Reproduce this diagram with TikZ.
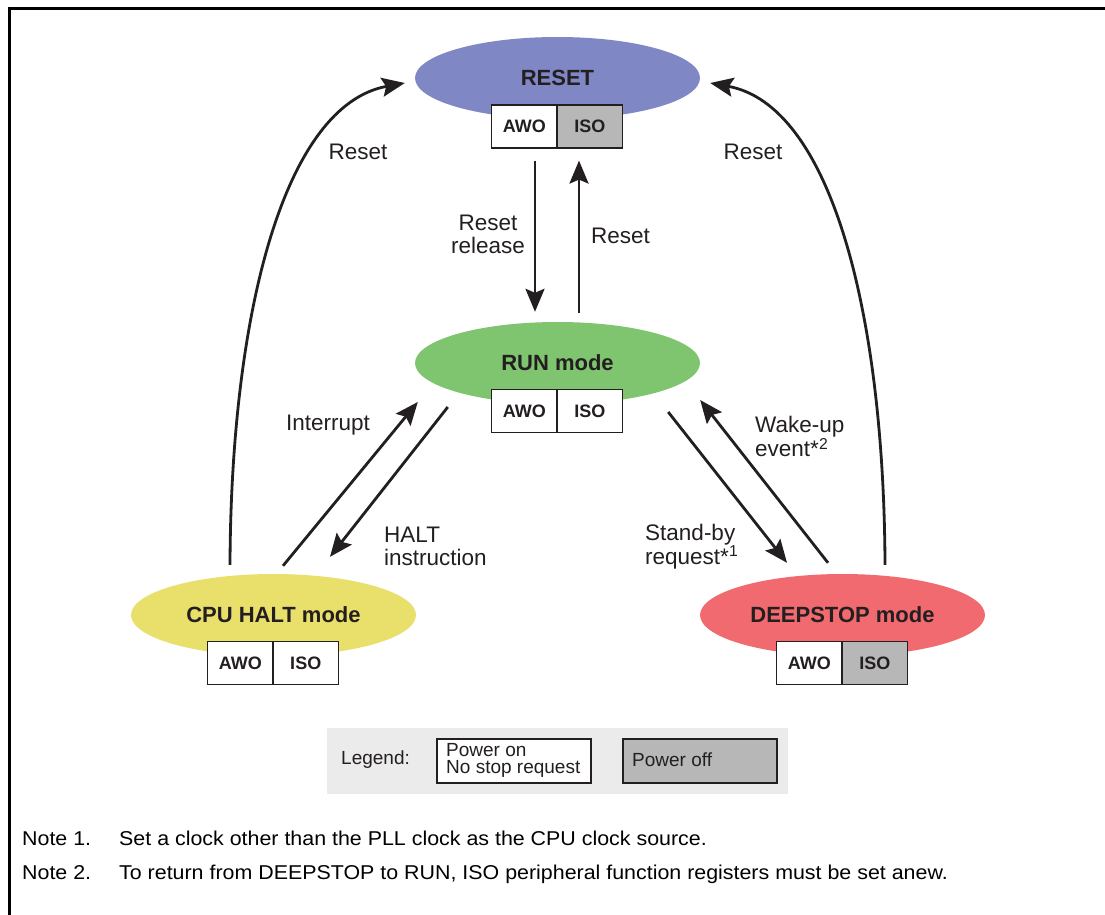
\documentclass[tikz,border=0pt]{standalone}
\usepackage{fontspec}
\setmainfont{Liberation Sans}
\newfontfamily\notefont[FakeStretch=1.07]{Liberation Sans}
\usetikzlibrary{shapes.geometric,arrows.meta}
\definecolor{cReset}{HTML}{7F87C5}
\definecolor{cRun}{HTML}{7FC46F}
\definecolor{cHalt}{HTML}{E9DF6B}
\definecolor{cDeep}{HTML}{F16A6F}
\definecolor{cOff}{HTML}{B7B7B7}
\definecolor{cLeg}{HTML}{EBEBEB}
\definecolor{txt}{HTML}{231F20}
\tikzset{
  statenode/.style={ellipse, minimum width=285pt, minimum height=82pt, inner sep=0pt,
    font=\fontsize{22}{26}\selectfont\bfseries, text=txt},
  cell/.style={draw=txt, line width=1.1pt, minimum width=65.5pt, minimum height=43pt, inner sep=0pt,
    font=\fontsize{18}{20}\selectfont\bfseries, text=txt},
  arr/.style={draw=txt, line width=2.8pt, -{Stealth[length=23pt,width=19pt,inset=4pt]}},
  lbl/.style={inner sep=0pt, font=\fontsize{22.5}{23}\selectfont, text=txt},
  leg/.style={inner sep=0pt, font=\fontsize{19}{20}\selectfont, text=txt, align=left},
  note/.style={inner sep=0pt, anchor=base west, font=\fontsize{20}{22}\notefont, text=black},
}
\begin{document}
\begin{tikzpicture}[x=1pt,y=-1pt]
\useasboundingbox (0,0) rectangle (1105,914);
% frame
\draw[line width=3pt] (9.5,915) -- (9.5,8) -- (1106,8);

% states
\node[statenode, fill=cReset] (reset) at (557.5,78) {RESET};
\node[statenode, fill=cRun] (run) at (557.5,363) {RUN mode};
\node[statenode, fill=cHalt] (halt) at (273.5,615) {CPU HALT mode};
\node[statenode, fill=cDeep] (deep) at (842.5,615) {DEEPSTOP mode};

% boxes
\node[cell, fill=white] (resetA) at (524.25,126.5) {AWO};
\node[cell, fill=cOff] (resetI) at (589.75,126.5) {ISO};
\node[cell, fill=white] (runA) at (524.25,411) {AWO};
\node[cell, fill=white] (runI) at (589.75,411) {ISO};
\node[cell, fill=white] (haltA) at (240.25,663) {AWO};
\node[cell, fill=white] (haltI) at (305.75,663) {ISO};
\node[cell, fill=white] (deepA) at (809.25,663) {AWO};
\node[cell, fill=cOff] (deepI) at (874.75,663) {ISO};

% vertical arrows
\draw[arr] ([shift={(10.75,12)}]resetA.south) -- ([shift={(-22.5,-10)}]run.north);
\draw[arr] ([shift={(21.5,-9)}]run.north) -- ([shift={(-10.75,12)}]resetI.south);
% halt arrows
\draw[arr] ([shift={(9.5,-8)}]halt.north) -- ([shift={(3,39)}]run.west);
\draw[arr] ([shift={(33,44)}]run.west) -- ([shift={(56.5,-17)}]halt.north);
% deepstop arrows
\draw[arr] ([shift={(-32,49)}]run.east) -- ([shift={(-55.5,-11)}]deep.north);
\draw[arr] ([shift={(-14.5,-11)}]deep.north) -- ([shift={(0,37)}]run.east);
% reset curves
\draw[arr] ([shift={(-43.5,-9)}]halt.north) .. controls (231,310) and (285,105) .. ([shift={(-10,5)}]reset.west);
\draw[arr] ([shift={(42.5,-9)}]deep.north) .. controls (884,310) and (830,105) .. ([shift={(10,5)}]reset.east);

% labels
\node[lbl] (lResetL) at (358,152) {Reset};
\node[lbl] (lResetR) at (753,152) {Reset};
\node[lbl, align=center] (lRel) at (488,234.5) {Reset\\release};
\node[lbl, anchor=west] (lResetM) at (591,236) {Reset};
\node[lbl] (lInt) at (328,425) {Interrupt};
\node[lbl, anchor=west, align=left] (lHalt) at (384,546.5) {HALT\\instruction};
\node[lbl, anchor=west, align=left] (lWake) at (755,436.5) {Wake-up\\event*\textsuperscript{2}};
\node[lbl, anchor=west, align=left] (lStand) at (645,546.5) {Stand-by\\request*\textsuperscript{1}};

% legend
\node[fill=cLeg, minimum width=461pt, minimum height=66pt, inner sep=0pt] (legbg) at (557.5,761) {};
\node[leg, anchor=west] (legtxt) at (341,760) {Legend:};
\node[draw=txt, line width=1.1pt, fill=white, minimum width=154pt, minimum height=44pt, inner sep=0pt] (legon) at (514,761) {};
\node[leg, anchor=west] (legontxt) at (446,760) {Power on\\[-3pt]No stop request};
\node[draw=txt, line width=1.1pt, fill=cOff, minimum width=154pt, minimum height=44pt, inner sep=0pt] (legoff) at (700,761) {};
\node[leg, anchor=west] (legofftxt) at (632,760) {Power off};

% notes
\node[note] (n1a) at (22,845) {Note 1.};
\node[note] (n1b) at (119,845) {Set a clock other than the PLL clock as the CPU clock source.};
\node[note] (n2a) at (22,879) {Note 2.};
\node[note] (n2b) at (119,879) {To return from DEEPSTOP to RUN, ISO peripheral function registers must be set anew.};
\end{tikzpicture}
\end{document}
